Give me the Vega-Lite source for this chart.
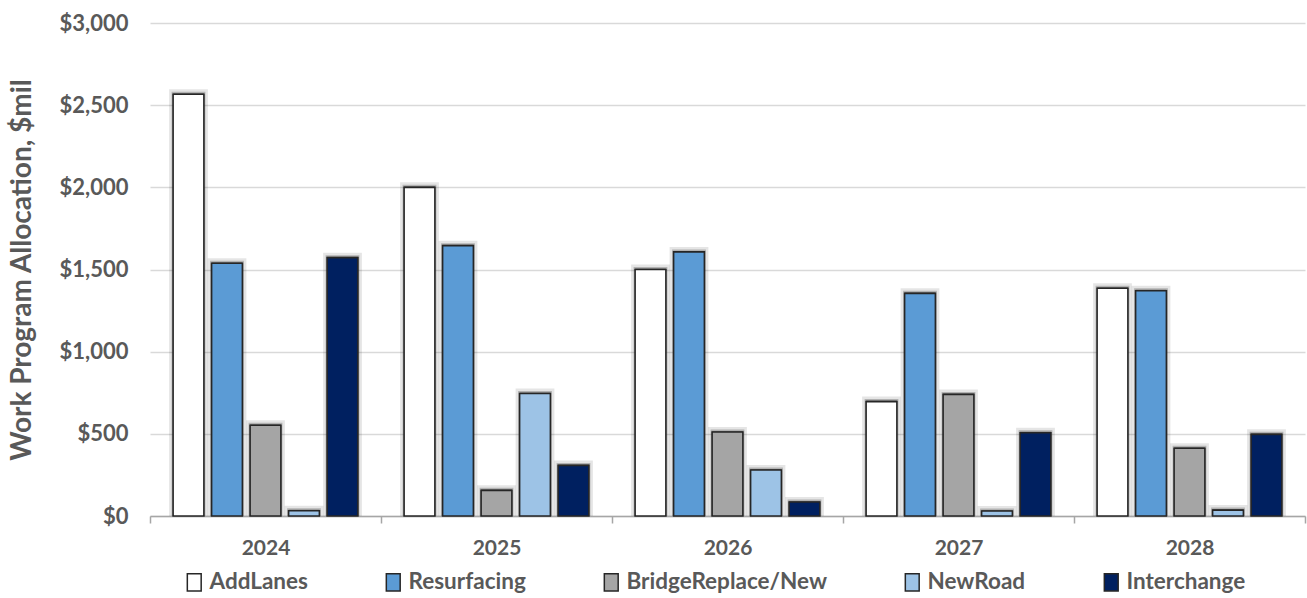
{
  "$schema": "https://vega.github.io/schema/vega-lite/v6.json",
  "width": 1155,
  "height": 493,
  "autosize": {"type": "none"},
  "padding": {"left": 150, "top": 23, "right": 2, "bottom": 82},
  "background": "white",
  "config": {
    "font": "Lato",
    "view": {"stroke": null},
    "legend": {
      "orient": "none",
      "direction": "horizontal",
      "columns": 5,
      "legendX": 33,
      "legendY": 548,
      "columnPadding": 74,
      "labelFont": "Lato",
      "labelFontSize": 22.5,
      "labelFontWeight": "bold",
      "labelColor": "#595959",
      "labelOffset": 4,
      "labelLimit": 400,
      "symbolType": "M-0.8,-1H0.8V1H-0.8Z",
      "symbolSize": 300,
      "symbolStrokeColor": "#262626",
      "symbolStrokeWidth": 1.5,
      "symbolOpacity": 1
    }
  },
  "data": {
    "values": [
      {"year": "2024", "type": "AddLanes", "value": 2566},
      {"year": "2024", "type": "Resurfacing", "value": 1538},
      {"year": "2024", "type": "BridgeReplace/New", "value": 552},
      {"year": "2024", "type": "NewRoad", "value": 32},
      {"year": "2024", "type": "Interchange", "value": 1572},
      {"year": "2025", "type": "AddLanes", "value": 2000},
      {"year": "2025", "type": "Resurfacing", "value": 1645},
      {"year": "2025", "type": "BridgeReplace/New", "value": 156},
      {"year": "2025", "type": "NewRoad", "value": 745},
      {"year": "2025", "type": "Interchange", "value": 308},
      {"year": "2026", "type": "AddLanes", "value": 1500},
      {"year": "2026", "type": "Resurfacing", "value": 1607},
      {"year": "2026", "type": "BridgeReplace/New", "value": 511},
      {"year": "2026", "type": "NewRoad", "value": 280},
      {"year": "2026", "type": "Interchange", "value": 85},
      {"year": "2027", "type": "AddLanes", "value": 696},
      {"year": "2027", "type": "Resurfacing", "value": 1355},
      {"year": "2027", "type": "BridgeReplace/New", "value": 740},
      {"year": "2027", "type": "NewRoad", "value": 30},
      {"year": "2027", "type": "Interchange", "value": 507},
      {"year": "2028", "type": "AddLanes", "value": 1386},
      {"year": "2028", "type": "Resurfacing", "value": 1371},
      {"year": "2028", "type": "BridgeReplace/New", "value": 412},
      {"year": "2028", "type": "NewRoad", "value": 36},
      {"year": "2028", "type": "Interchange", "value": 497}
    ]
  },
  "encoding": {
    "x": {
      "field": "year",
      "type": "nominal",
      "scale": {"paddingInner": 0, "paddingOuter": 0},
      "axis": {
        "title": null,
        "labelAngle": 0,
        "labelFont": "Lato",
        "labelFontSize": 21,
        "labelFontWeight": "bold",
        "labelColor": "#595959",
        "labelPadding": 14,
        "domainColor": "#a6a6a6",
        "domainWidth": 1.5,
        "tickColor": "#a6a6a6",
        "tickWidth": 1.5,
        "tickSize": 7,
        "tickBand": "extent",
        "grid": false
      }
    },
    "xOffset": {
      "field": "type",
      "type": "nominal",
      "sort": ["AddLanes", "Resurfacing", "BridgeReplace/New", "NewRoad", "Interchange"],
      "scale": {"paddingInner": 0.2, "paddingOuter": 0.6}
    },
    "y": {
      "field": "value",
      "type": "quantitative",
      "scale": {"domain": [0, 3000], "nice": false},
      "axis": {
        "title": "Work Program Allocation, $mil",
        "titleFont": "Lato",
        "titleFontSize": 28,
        "titleFontWeight": "bold",
        "titleColor": "#595959",
        "titlePadding": 23,
        "values": [0, 500, 1000, 1500, 2000, 2500, 3000],
        "format": "$,.0f",
        "labelFont": "Lato",
        "labelFontSize": 22,
        "labelFontWeight": "bold",
        "labelColor": "#595959",
        "labelPadding": 22,
        "domain": false,
        "ticks": false,
        "gridColor": "#d9d9d9",
        "gridWidth": 1.5
      }
    }
  },
  "layer": [
    {
      "mark": {"type": "bar", "clip": true, "xOffset": 2, "yOffset": -1, "fill": "#000000", "fillOpacity": 0.15, "stroke": "#000000", "strokeOpacity": 0.1, "strokeWidth": 8}
    },
    {
      "mark": {"type": "bar", "clip": true, "xOffset": 2, "yOffset": -1, "fill": "#000000", "fillOpacity": 0.3, "stroke": "#000000", "strokeOpacity": 0.22, "strokeWidth": 3}
    },
    {
      "mark": {"type": "bar", "stroke": "#262626", "strokeWidth": 1.6},
      "encoding": {
        "color": {
          "field": "type",
          "type": "nominal",
          "sort": ["AddLanes", "Resurfacing", "BridgeReplace/New", "NewRoad", "Interchange"],
          "scale": {
            "domain": ["AddLanes", "Resurfacing", "BridgeReplace/New", "NewRoad", "Interchange"],
            "range": ["#ffffff", "#5b9bd5", "#a5a5a5", "#9dc3e6", "#002060"]
          },
          "legend": {"title": null}
        }
      }
    }
  ]
}
